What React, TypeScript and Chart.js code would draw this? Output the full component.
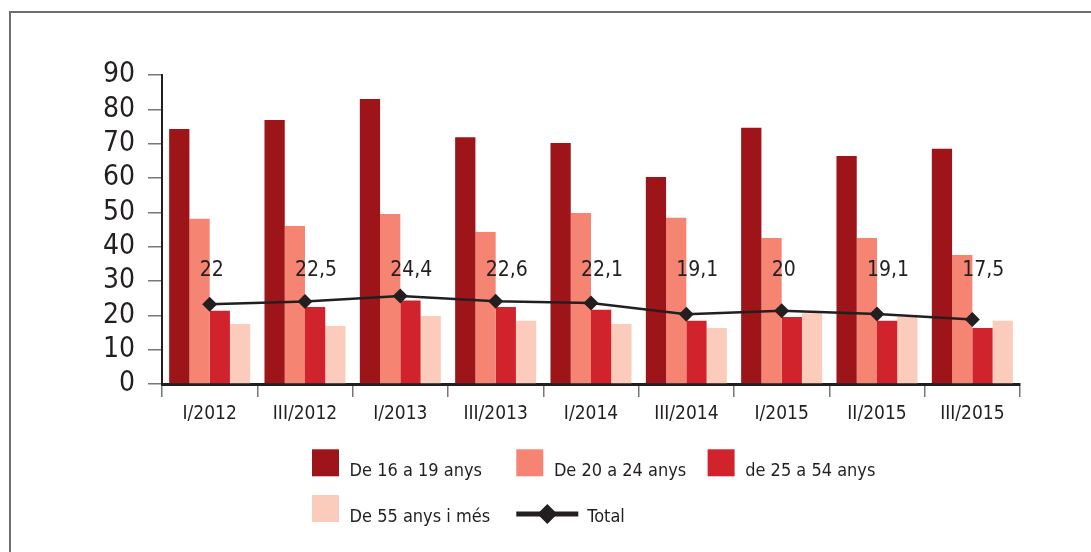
import { useEffect, useRef } from 'react';
import { Chart, registerables } from 'chart.js';

Chart.register(...registerables);

const W = 1091;
const H = 552;

const categories = ['I/2012', 'III/2012', 'I/2013', 'III/2013', 'I/2014', 'III/2014', 'I/2015', 'II/2015', 'III/2015'];
const age16to19 = [74.3, 76.9, 83.0, 71.9, 70.2, 60.3, 74.6, 66.4, 68.5];
const age20to24 = [48.1, 46.0, 49.5, 44.3, 49.8, 48.4, 42.5, 42.5, 37.6];
const age25to54 = [21.3, 22.4, 24.3, 22.4, 21.6, 18.4, 19.5, 18.4, 16.3];
const age55plus = [17.5, 16.9, 19.8, 18.4, 17.5, 16.3, 20.6, 19.6, 18.4];
const totalValues = [23.2, 24.0, 25.6, 24.1, 23.6, 20.3, 21.3, 20.4, 18.8];
const totalLabels = ['22', '22,5', '24,4', '22,6', '22,1', '19,1', '20', '19,1', '17,5'];
const seriesNames = ['De 16 a 19 anys', 'De 20 a 24 anys', 'de 25 a 54 anys', 'De 55 anys i més', 'Total'];
const yMax = 90;
const yStep = 10;
const labelLevel = 31.5;

const FONT = "'Liberation Sans Narrow', 'DejaVu Sans Condensed', sans-serif";
const INK = '#231F20';
const COLORS = ['#9D1419', '#F68473', '#D0232B', '#FBCCBC'];

const labelPlugin = {
  id: 'totalLabels',
  afterDatasetsDraw(chart: any) {
    const idx = chart.data.datasets.findIndex((d: any) => d.type === 'line');
    const meta = chart.getDatasetMeta(idx);
    const yS = chart.scales.y;
    const ctx = chart.ctx;
    ctx.save();
    ctx.font = `21px ${FONT}`;
    ctx.fillStyle = INK;
    ctx.textAlign = 'left';
    ctx.textBaseline = 'alphabetic';
    meta.data.forEach((pt: any, i: number) => {
      ctx.fillText(totalLabels[i], pt.x - 10, yS.getPixelForValue(labelLevel));
    });
    ctx.restore();
  },
};

const legendPlugin = {
  id: 'customLegend',
  afterDraw(chart: any) {
    const ctx = chart.ctx;
    const { left, bottom } = chart.chartArea;
    const cols = [150, 354.3, 545.6];
    const rows = [65.3, 111];
    const slots = [
      [0, 0],
      [0, 1],
      [0, 2],
      [1, 0],
      [1, 1],
    ];
    ctx.save();
    ctx.font = `18px ${FONT}`;
    ctx.textAlign = 'left';
    ctx.textBaseline = 'alphabetic';
    chart.data.datasets.forEach((ds: any, i: number) => {
      const [r, c] = slots[i];
      const x = left + cols[c];
      const y = bottom + rows[r];
      if (ds.type === 'line') {
        const cy = y + 19;
        ctx.strokeStyle = INK;
        ctx.lineWidth = 5;
        ctx.beginPath();
        ctx.moveTo(x, cy);
        ctx.lineTo(x + 62, cy);
        ctx.stroke();
        ctx.fillStyle = INK;
        ctx.beginPath();
        const cx = x + 31;
        ctx.moveTo(cx, cy - 10);
        ctx.lineTo(cx + 10, cy);
        ctx.lineTo(cx, cy + 10);
        ctx.lineTo(cx - 10, cy);
        ctx.closePath();
        ctx.fill();
        ctx.fillStyle = INK;
        ctx.fillText(ds.label, x + 71, y + 27);
      } else {
        ctx.fillStyle = ds.backgroundColor;
        ctx.fillRect(x, y, 27, 27);
        ctx.fillStyle = INK;
        ctx.fillText(ds.label, x + 37.6, y + 27);
      }
    });
    ctx.restore();
  },
};

export default function App() {
  const ref = useRef<HTMLCanvasElement>(null);
  useEffect(() => {
    const bars = [age16to19, age20to24, age25to54, age55plus].map((vals, i) => ({
      type: 'bar' as const,
      label: seriesNames[i],
      data: vals,
      backgroundColor: COLORS[i],
      borderWidth: 0,
      order: 1,
      barPercentage: 1,
      categoryPercentage: 0.85,
    }));
    const chart = new Chart(ref.current!, {
      type: 'bar',
      data: {
        labels: categories,
        datasets: [
          ...bars,
          {
            type: 'line' as const,
            label: seriesNames[4],
            data: totalValues,
            borderColor: INK,
            backgroundColor: INK,
            borderWidth: 2.5,
            pointStyle: 'rectRot',
            pointRadius: 7.5,
            pointBackgroundColor: INK,
            pointBorderWidth: 0,
            order: 0,
            tension: 0,
          } as any,
        ],
      },
      options: {
        responsive: false,
        animation: false,
        devicePixelRatio: 1,
        layout: { padding: { top: 75, right: 71, left: 0, bottom: 0 } },
        plugins: {
          legend: { display: false },
          tooltip: { enabled: false },
          title: { display: false },
        },
        scales: {
          x: {
            z: 1,
            grid: { offset: true, drawOnChartArea: false, drawTicks: true, tickLength: 13, color: '#777', lineWidth: 1.5 },
            border: { display: true, color: INK, width: 3 },
            ticks: { color: INK, font: { family: FONT, size: 19 }, padding: 6, maxRotation: 0, autoSkip: false },
            afterFit: (s: any) => {
              s.height = 168;
            },
          },
          y: {
            z: 1,
            min: 0,
            max: yMax,
            ticks: { stepSize: yStep, color: INK, font: { family: FONT, size: 28 }, padding: 13, autoSkip: false },
            grid: { drawOnChartArea: false, drawTicks: true, tickLength: 14, color: '#777', lineWidth: 1.5 },
            border: { display: true, color: INK, width: 2 },
            afterFit: (s: any) => {
              s.width = 162;
            },
          },
        },
      },
      plugins: [labelPlugin, legendPlugin],
    });
    return () => chart.destroy();
  }, []);

  return (
    <div style={{ position: 'absolute', left: 0, top: 0, width: W, height: H, overflow: 'hidden', background: '#fff' }}>
      <canvas ref={ref} width={W} height={H} style={{ width: W, height: H, display: 'block' }} />
      <div
        style={{
          position: 'absolute',
          left: 9,
          top: 11,
          width: W,
          height: H,
          borderLeft: '2px solid #6e6e6e',
          borderTop: '2px solid #6e6e6e',
          pointerEvents: 'none',
        }}
      />
    </div>
  );
}
